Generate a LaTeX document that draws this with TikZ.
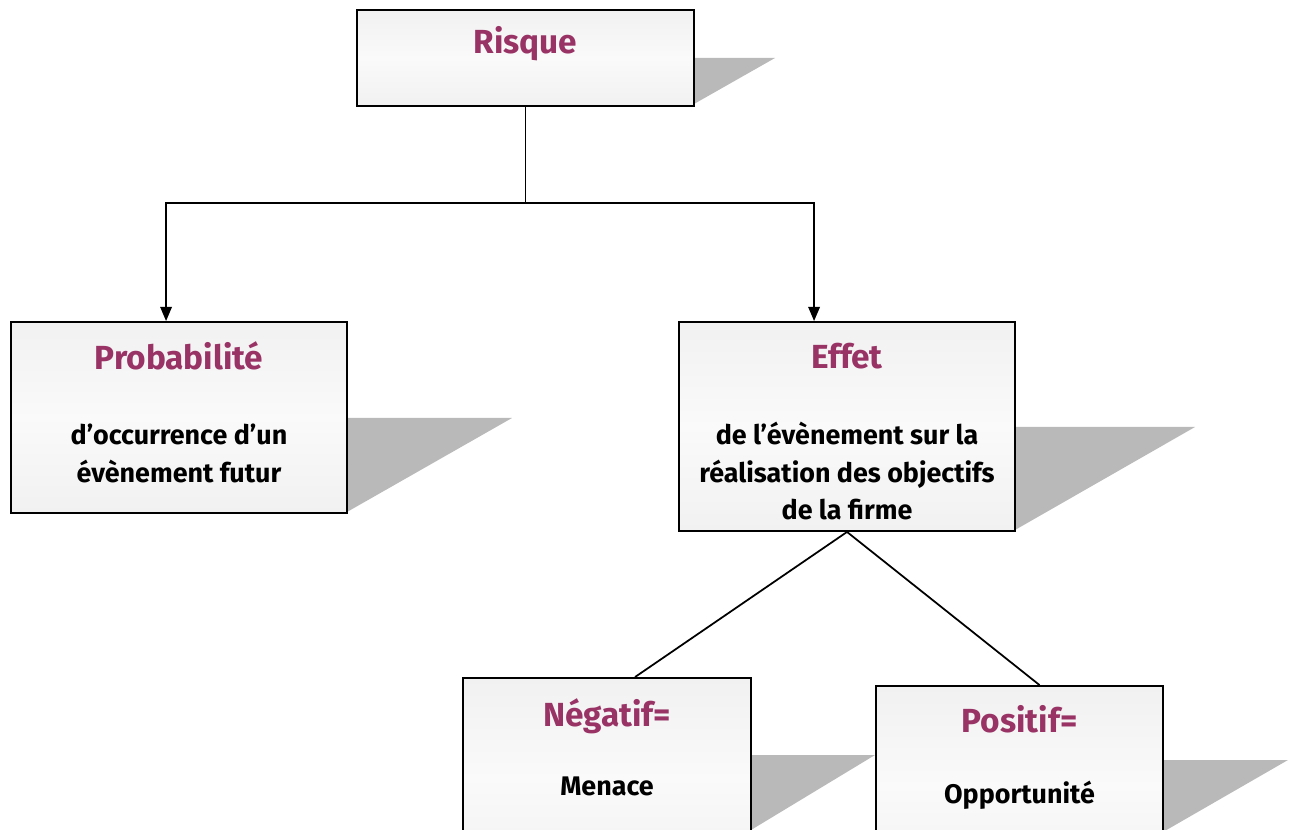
\documentclass[tikz,border=0pt]{standalone}
\usepackage{fontspec}
\setmainfont{Fira Sans}
\usepackage{tikz}
\usetikzlibrary{calc,arrows.meta}

\definecolor{titlepurple}{HTML}{993366}

\tikzset{
  box/.style={draw, line width=1.1pt, top color=gray!11, bottom color=gray!11,
    middle color=gray!4, inner sep=0pt},
  boxshadow/.style={fill=gray!55},
  boxtitle/.style={font=\fontsize{19}{23}\selectfont\bfseries, text=titlepurple},
  boxtext/.style={font=\fontsize{15.3}{21.5}\selectfont\bfseries, align=center},
  link/.style={line width=1pt},
  arrow/.style={link, -{Triangle[length=8pt,width=6.5pt]}}
}

\begin{document}
\begin{tikzpicture}[x=0.02cm, y=-0.02cm]
        \useasboundingbox (0,0) rectangle (1290,830);
        \clip (0,0) rectangle (1290,830);

        %Shadows
        \fill [boxshadow] (694,58)   -- (775,58)   -- (694,104)  -- cycle;  % Risque
        \fill [boxshadow] (347,418)  -- (512,418)  -- (347,512)  -- cycle;  % Probabilite
        \fill [boxshadow] (1015,427) -- (1195,427) -- (1015,530) -- cycle;  % Effet
        \fill [boxshadow] (751,755)  -- (875,755)  -- (751,830)  -- cycle;  % Negatif
        \fill [boxshadow] (1163,760) -- (1288,760) -- (1163,832) -- cycle;  % Positif

        %Risque
        \node [box, minimum width=6.74cm, minimum height=1.92cm] (risque) at (525.5,58) {};
        \node [boxtitle] (risque-title) at ($(risque.north)+(0,35)$) {Risque};

        %Probabilite
        \node [box, minimum width=6.72cm, minimum height=3.82cm] (prob) at (179,417.5) {};
        \node [boxtitle] (prob-title) at ($(prob.north)+(0,35)$) {Probabilité};
        \node [boxtext] (prob-text) at ($(prob.north)+(0,132)$) {d’occurrence d’un\\évènement futur};

        %Effet
        \node [box, minimum width=6.72cm, minimum height=4.18cm] (effet) at (847,426.5) {};
        \node [boxtitle] (effet-title) at ($(effet.north)+(0,35)$) {Effet};
        \node [boxtext] (effet-text) at ($(effet.north)+(0,150)$) {de l’évènement sur la\\réalisation des objectifs\\de la firme};

        %Negatif
        \node [box, minimum width=5.76cm, minimum height=4cm] (neg) at (607,778) {};
        \node [boxtitle] (neg-title) at ($(neg.north)+(0,39)$) {Négatif=};
        \node [boxtext] (neg-text) at ($(neg.north)+(0,109)$) {Menace};

        %Positif
        \node [box, minimum width=5.74cm, minimum height=4cm] (pos) at (1019.5,786) {};
        \node [boxtitle] (pos-title) at ($(pos.north)+(0,34)$) {Positif=};
        \node [boxtext] (pos-text) at ($(pos.north)+(0,110)$) {Opportunité};

        %Links
        \draw [link] (risque.south) -- ++(0,96) coordinate (fork);
        \draw [arrow] (fork) -| ($(prob.north west)+(156,0)$);
        \draw [arrow] (fork) -| ($(effet.north west)+(136,0)$);
        \draw [link] (effet.south) -- ($(neg.north)+(28,0)$);
        \draw [link] (effet.south) -- ($(pos.north)+(20,0)$);
\end{tikzpicture}
\end{document}
